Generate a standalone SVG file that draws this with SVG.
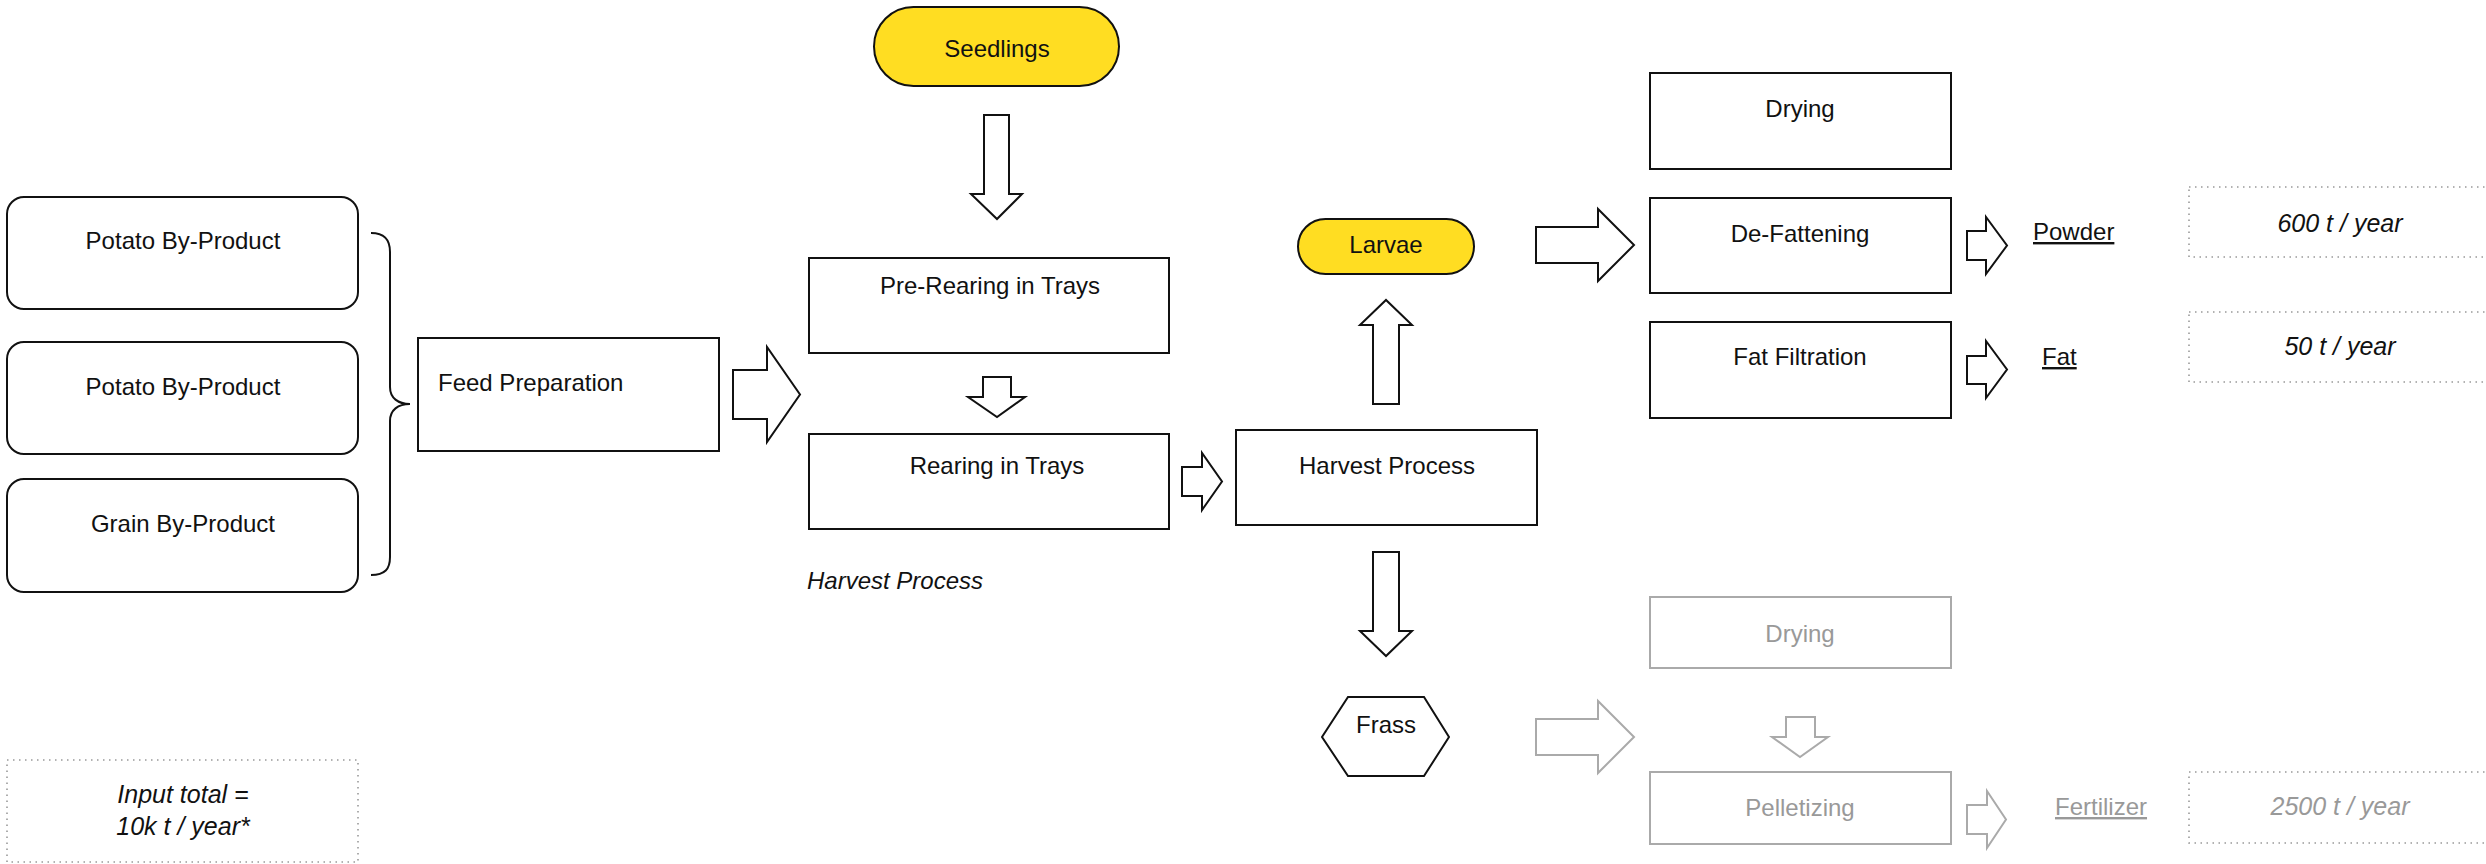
<svg xmlns="http://www.w3.org/2000/svg" width="2486" height="864" viewBox="0 0 2486 864">
<style>
text{font-family:"Liberation Sans",Arial,sans-serif;font-size:24px;fill:#111}
.c{text-anchor:middle}
.it{font-style:italic;font-size:25px}
.box{fill:#fff;stroke:#111;stroke-width:2}
.pill{fill:#FFDD22;stroke:#111;stroke-width:2}
.gbox{fill:#fff;stroke:#aaa;stroke-width:2}
.gt{fill:#999}
.dot{fill:none;stroke:#999;stroke-width:1.6;stroke-dasharray:1.5 4.5}
.ar{fill:#fff;stroke:#111;stroke-width:2;stroke-linejoin:miter}
.gar{fill:#fff;stroke:#aaa;stroke-width:2}
.u{text-decoration:underline}
</style>
<rect width="2486" height="864" fill="#fff"/>

<g id="potato1"><rect class="box" x="7" y="197" width="351" height="112" rx="17"/><text class="c" x="183" y="249">Potato By-Product</text></g>
<g id="potato2"><rect class="box" x="7" y="342" width="351" height="112" rx="17"/><text class="c" x="183" y="395">Potato By-Product</text></g>
<g id="grain"><rect class="box" x="7" y="479" width="351" height="113" rx="17"/><text class="c" x="183" y="532">Grain By-Product</text></g>
<g id="brace"><path d="M371,233 C385,233 390,240 390,252 L390,387 C390,398 398,404 410,404 C398,404 390,410 390,421 L390,557 C390,569 385,575 371,575" fill="none" stroke="#111" stroke-width="2"/></g>
<g id="feed"><rect class="box" x="418" y="338" width="301" height="113"/><text x="438" y="391">Feed Preparation</text></g>

<g id="seedlings"><rect class="pill" x="874" y="7" width="245" height="79" rx="39.5"/><text class="c" x="997" y="57">Seedlings</text></g>
<g id="prerearing"><rect class="box" x="809" y="258" width="360" height="95"/><text class="c" x="990" y="294">Pre-Rearing in Trays</text></g>
<g id="rearing"><rect class="box" x="809" y="434" width="360" height="95"/><text class="c" x="997" y="474">Rearing in Trays</text></g>
<g id="harvestlabel"><text class="it" x="807" y="589" style="font-size:24px">Harvest Process</text></g>
<g id="harvest"><rect class="box" x="1236" y="430" width="301" height="95"/><text class="c" x="1387" y="474">Harvest Process</text></g>
<g id="larvae"><rect class="pill" x="1298" y="219" width="176" height="55" rx="27.5"/><text class="c" x="1386" y="253">Larvae</text></g>
<g id="frass"><polygon class="box" points="1348,697 1424,697 1449,737 1424,776 1348,776 1322,737"/><text class="c" x="1386" y="733">Frass</text></g>

<g id="drying"><rect class="box" x="1650" y="73" width="301" height="96"/><text class="c" x="1800" y="117">Drying</text></g>
<g id="defat"><rect class="box" x="1650" y="198" width="301" height="95"/><text class="c" x="1800" y="242">De-Fattening</text></g>
<g id="fatfilt"><rect class="box" x="1650" y="322" width="301" height="96"/><text class="c" x="1800" y="365">Fat Filtration</text></g>
<g id="powder"><text class="u" x="2033" y="240">Powder</text></g>
<g id="fat"><text class="u" x="2042" y="365">Fat</text></g>
<g id="q600"><rect class="dot" x="2189" y="187" width="310" height="70"/><text class="c it" x="2340" y="232">600 t / year</text></g>
<g id="q50"><rect class="dot" x="2189" y="312" width="310" height="70"/><text class="c it" x="2340" y="355">50 t / year</text></g>

<g id="gdrying"><rect class="gbox" x="1650" y="597" width="301" height="71"/><text class="c gt" x="1800" y="642">Drying</text></g>
<g id="pellet"><rect class="gbox" x="1650" y="772" width="301" height="72"/><text class="c gt" x="1800" y="816">Pelletizing</text></g>
<g id="fertilizer"><text class="u gt" x="2055" y="815">Fertilizer</text></g>
<g id="q2500"><rect class="dot" x="2189" y="772" width="310" height="71"/><text class="c it gt" x="2340" y="815">2500 t / year</text></g>

<g id="input"><rect class="dot" x="7" y="760" width="351" height="102"/><text class="c it" x="183" y="803">Input total =</text><text class="c it" x="183" y="835">10k t / year*</text></g>

<g id="connectors">
<polygon class="ar" points="733,370 767,370 767,347 800,394.5 767,442 767,419 733,419"/>
<polygon class="ar" points="984,115 1009,115 1009,194 1022,194 997,219 971,194 984,194"/>
<polygon class="ar" points="983,377 1011,377 1011,397 1025,397 997,417 968,397 983,397"/>
<polygon class="ar" points="1182,467 1202,467 1202,453 1222,481.5 1202,510 1202,496 1182,496"/>
<polygon class="ar" points="1373,404 1373,325 1360,325 1386,300 1412,325 1399,325 1399,404"/>
<polygon class="ar" points="1373,552 1399,552 1399,631 1412,631 1386,656 1360,631 1373,631"/>
<polygon class="ar" points="1536,227 1598,227 1598,209 1634,245 1598,281 1598,263 1536,263"/>
<polygon class="ar" points="1967,231 1986,231 1986,217 2007,245.5 1986,274 1986,260 1967,260"/>
<polygon class="ar" points="1967,356 1986,356 1986,341 2007,369.5 1986,398 1986,384 1967,384"/>
<polygon class="gar" points="1536,719 1598,719 1598,701 1634,737 1598,773 1598,755 1536,755"/>
<polygon class="gar" points="1786,717 1815,717 1815,737 1828,737 1800,757 1772,737 1786,737"/>
<polygon class="gar" points="1967,805 1987,805 1987,791 2006,819.5 1987,848 1987,834 1967,834"/>
</g>
</svg>
